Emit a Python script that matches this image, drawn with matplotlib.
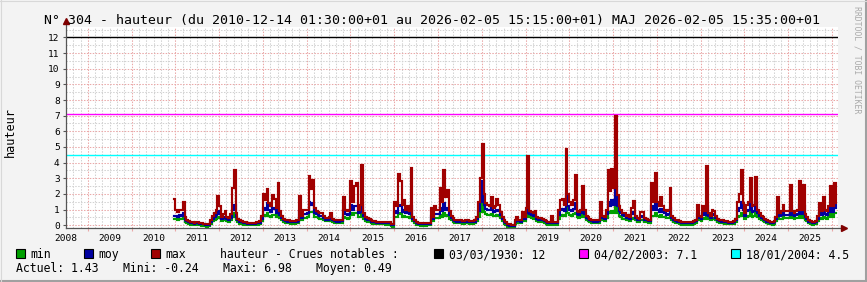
import matplotlib
matplotlib.use("Agg")
import matplotlib.pyplot as plt
import numpy as np
from matplotlib.patches import Rectangle
from matplotlib.lines import Line2D

W, H, DPI = 867, 282, 100
MONO = "DejaVu Sans Mono"

# ---------------- data (semi-monthly bins, first bin = late Dec 2010) ----------------
FIRST_BIN_YEAR = 2010
FIRST_BIN_INDEX = 23          # half-month index within the year (0..23)
BINS_PER_YEAR = 24
END_TIME = 2026 + 35 / 365.0  # 2026-02-05

max_vals = [
    1.7,
    0.95, 0.85, 0.95, 0.95, 1.5, 0.55, 0.35, 0.25, 0.2, 0.18, 0.15, 0.2, 0.2, 0.15, 0.12, 0.1, 0.08, 0.05, 0.1, 0.3, 0.6, 0.75, 1.0, 1.85,
    1.2, 0.5, 0.7, 0.9, 0.5, 0.45, 0.7, 2.35, 3.5, 0.8, 0.4, 0.3, 0.25, 0.2, 0.18, 0.17, 0.17, 0.15, 0.15, 0.17, 0.2, 0.2, 0.25, 0.6,
    2.0, 1.6, 2.3, 1.4, 1.2, 1.9, 1.7, 1.1, 2.7, 0.9, 0.6, 0.4, 0.35, 0.3, 0.3, 0.28, 0.25, 0.25, 0.3, 0.35, 1.85, 0.6, 1.0, 1.0,
    1.0, 3.15, 2.3, 2.9, 1.1, 0.9, 0.85, 0.8, 0.8, 0.6, 0.45, 0.45, 0.5, 0.77, 0.4, 0.35, 0.3, 0.3, 0.35, 0.35, 1.83, 1.0, 0.9, 1.0,
    2.85, 1.5, 2.5, 2.7, 1.0, 1.3, 3.86, 0.8, 0.55, 0.45, 0.4, 0.3, 0.25, 0.25, 0.23, 0.22, 0.22, 0.22, 0.22, 0.2, 0.2, 0.22, 0.1, 0.05,
    1.5, 1.2, 3.28, 2.8, 1.3, 1.6, 1.0, 1.2, 0.9, 3.64, 0.55, 0.35, 0.2, 0.15, 0.12, 0.12, 0.12, 0.12, 0.15, 0.15, 1.1, 0.5, 1.2, 1.0,
    1.0, 2.36, 1.5, 3.54, 1.8, 2.26, 0.9, 0.6, 0.45, 0.35, 0.3, 0.3, 0.3, 0.28, 0.25, 0.35, 0.3, 0.25, 0.25, 0.25, 0.3, 0.5, 1.5, 3.0,
    5.2, 2.0, 1.4, 1.3, 1.2, 1.78, 1.1, 1.2, 1.7, 1.3, 0.85, 0.5, 0.3, 0.2, 0.1, 0.05, 0.02, 0.0, 0.3, 0.5, 0.35, 0.3, 0.85, 0.5,
    1.1, 4.45, 0.9, 0.85, 0.75, 0.9, 0.5, 0.45, 0.45, 0.4, 0.35, 0.25, 0.2, 0.2, 0.6, 0.2, 0.18, 0.2, 1.0, 1.6, 1.7, 1.3, 4.9, 2.0,
    1.5, 1.3, 1.6, 3.2, 0.9, 0.85, 1.0, 2.5, 1.0, 0.6, 0.5, 0.4, 0.35, 0.3, 0.3, 0.3, 0.35, 1.5, 0.6, 0.5, 1.0, 3.5, 2.2, 3.6,
    2.4, 6.98, 1.9, 1.2, 1.0, 0.8, 0.75, 0.6, 0.65, 0.5, 1.1, 1.56, 0.6, 0.45, 0.4, 0.85, 0.87, 0.45, 0.4, 0.35, 0.35, 2.7, 1.5, 3.35,
    1.5, 1.2, 1.8, 1.2, 1.0, 0.9, 1.0, 2.36, 0.6, 0.45, 0.35, 0.3, 0.25, 0.22, 0.2, 0.2, 0.2, 0.2, 0.2, 0.22, 0.25, 0.35, 1.3, 0.6,
    0.5, 1.2, 0.9, 3.8, 0.8, 0.6, 1.0, 0.9, 0.6, 0.4, 0.35, 0.3, 0.3, 0.25, 0.25, 0.22, 0.22, 0.22, 0.25, 0.4, 1.5, 2.0, 3.5, 1.4,
    0.8, 1.3, 1.5, 3.0, 1.2, 1.3, 3.1, 1.0, 0.8, 0.6, 0.55, 0.4, 0.3, 0.25, 0.22, 0.2, 0.25, 0.5, 1.8, 0.8, 0.9, 1.3, 0.9, 0.9,
    0.9, 2.6, 0.9, 0.8, 0.9, 1.0, 2.8, 1.0, 2.6, 0.7, 0.5, 0.3, 0.25, 0.2, 0.22, 0.25, 0.6, 1.4, 0.9, 1.8, 1.0, 0.9, 1.2, 2.5,
    1.2, 2.7, 1.43,
]

moy_vals = [
    0.6,
    0.6, 0.55, 0.65, 0.6, 0.8, 0.35, 0.25, 0.18, 0.14, 0.12, 0.1, 0.13, 0.13, 0.1, 0.07, 0.05, 0.02, 0.0, 0.04, 0.2, 0.4, 0.5, 0.65, 0.9,
    0.7, 0.38, 0.45, 0.55, 0.38, 0.33, 0.45, 1.0, 1.3, 0.55, 0.3, 0.22, 0.18, 0.14, 0.12, 0.1, 0.1, 0.09, 0.09, 0.1, 0.13, 0.13, 0.17, 0.4,
    1.1, 1.0, 1.4, 0.95, 0.85, 1.1, 1.05, 0.8, 1.3, 0.65, 0.45, 0.3, 0.26, 0.22, 0.22, 0.2, 0.18, 0.18, 0.22, 0.26, 0.9, 0.45, 0.7, 0.7,
    0.75, 1.5, 1.3, 1.4, 0.8, 0.7, 0.65, 0.6, 0.6, 0.45, 0.35, 0.35, 0.38, 0.5, 0.3, 0.27, 0.23, 0.23, 0.27, 0.27, 0.95, 0.7, 0.65, 0.7,
    1.3, 1.0, 1.2, 1.25, 0.75, 0.85, 1.3, 0.6, 0.42, 0.35, 0.3, 0.22, 0.18, 0.18, 0.16, 0.15, 0.15, 0.15, 0.15, 0.13, 0.13, 0.14, 0.04, -0.01,
    0.9, 0.8, 1.3, 1.2, 0.85, 0.95, 0.75, 0.85, 0.7, 1.25, 0.4, 0.26, 0.13, 0.09, 0.06, 0.06, 0.06, 0.06, 0.09, 0.09, 0.6, 0.38, 0.7, 0.7,
    0.7, 1.1, 0.9, 1.4, 1.0, 1.1, 0.65, 0.45, 0.35, 0.27, 0.22, 0.22, 0.22, 0.2, 0.18, 0.26, 0.22, 0.18, 0.18, 0.18, 0.22, 0.38, 0.9, 1.5,
    2.8, 1.3, 1.05, 1.0, 0.95, 1.1, 0.85, 0.9, 1.0, 0.9, 0.65, 0.38, 0.22, 0.12, 0.03, -0.03, -0.06, -0.08, 0.2, 0.35, 0.26, 0.22, 0.55, 0.38,
    0.8, 1.5, 0.7, 0.65, 0.58, 0.65, 0.38, 0.34, 0.34, 0.3, 0.26, 0.18, 0.13, 0.13, 0.35, 0.13, 0.11, 0.13, 0.65, 1.0, 1.05, 0.9, 2.0, 1.2,
    1.0, 0.9, 1.05, 1.4, 0.7, 0.65, 0.75, 1.1, 0.72, 0.45, 0.38, 0.3, 0.26, 0.22, 0.22, 0.22, 0.26, 0.8, 0.45, 0.38, 0.7, 1.5, 1.2, 1.6,
    1.3, 2.8, 1.2, 0.9, 0.75, 0.62, 0.58, 0.46, 0.5, 0.38, 0.7, 0.85, 0.45, 0.34, 0.3, 0.55, 0.6, 0.34, 0.3, 0.26, 0.26, 1.2, 0.95, 1.45,
    1.0, 0.85, 1.05, 0.85, 0.75, 0.68, 0.72, 1.1, 0.45, 0.34, 0.26, 0.22, 0.18, 0.15, 0.13, 0.13, 0.13, 0.13, 0.13, 0.15, 0.18, 0.26, 0.7, 0.45,
    0.38, 0.75, 0.65, 1.2, 0.6, 0.46, 0.7, 0.65, 0.45, 0.3, 0.26, 0.22, 0.22, 0.18, 0.18, 0.15, 0.15, 0.15, 0.18, 0.3, 0.9, 1.1, 1.5, 0.95,
    0.6, 0.9, 1.0, 1.5, 0.85, 0.9, 1.45, 0.75, 0.6, 0.45, 0.42, 0.3, 0.22, 0.18, 0.15, 0.13, 0.18, 0.38, 1.0, 0.6, 0.65, 0.85, 0.68, 0.68,
    0.68, 1.2, 0.68, 0.6, 0.68, 0.72, 1.3, 0.72, 1.2, 0.52, 0.38, 0.22, 0.18, 0.13, 0.15, 0.18, 0.42, 0.8, 0.65, 1.0, 0.72, 0.68, 0.85, 1.25,
    0.85, 1.3, 1.1,
]

min_vals = [
    0.4,
    0.4, 0.35, 0.4, 0.4, 0.45, 0.2, 0.12, 0.08, 0.04, 0.02, 0.0, 0.03, 0.03, 0.0, -0.03, -0.05, -0.08, -0.1, -0.06, 0.08, 0.25, 0.3, 0.4, 0.5,
    0.45, 0.25, 0.3, 0.35, 0.25, 0.2, 0.3, 0.55, 0.8, 0.35, 0.18, 0.1, 0.06, 0.03, 0.01, 0.0, 0.0, -0.02, -0.02, 0.0, 0.03, 0.03, 0.06, 0.25,
    0.65, 0.6, 0.8, 0.6, 0.55, 0.65, 0.65, 0.55, 0.7, 0.45, 0.3, 0.2, 0.16, 0.12, 0.12, 0.1, 0.08, 0.08, 0.12, 0.15, 0.45, 0.3, 0.45, 0.45,
    0.5, 0.85, 0.85, 0.85, 0.55, 0.5, 0.45, 0.42, 0.42, 0.32, 0.24, 0.24, 0.26, 0.32, 0.2, 0.17, 0.13, 0.13, 0.17, 0.17, 0.5, 0.45, 0.42, 0.45,
    0.75, 0.65, 0.75, 0.75, 0.5, 0.55, 0.75, 0.4, 0.28, 0.22, 0.18, 0.12, 0.08, 0.08, 0.06, 0.05, 0.05, 0.05, 0.05, 0.03, 0.03, 0.04, -0.08, -0.18,
    0.55, 0.5, 0.75, 0.7, 0.55, 0.6, 0.5, 0.55, 0.45, 0.7, 0.28, 0.16, 0.03, -0.01, -0.04, -0.04, -0.04, -0.04, -0.01, 0.0, 0.35, 0.25, 0.45, 0.45,
    0.45, 0.65, 0.55, 0.75, 0.6, 0.65, 0.42, 0.3, 0.22, 0.16, 0.12, 0.12, 0.12, 0.1, 0.08, 0.15, 0.12, 0.08, 0.08, 0.08, 0.12, 0.25, 0.55, 0.85,
    1.6, 0.85, 0.7, 0.65, 0.62, 0.7, 0.58, 0.6, 0.65, 0.6, 0.45, 0.25, 0.1, 0.0, -0.1, -0.16, -0.2, -0.24, 0.05, 0.22, 0.15, 0.12, 0.35, 0.25,
    0.55, 0.8, 0.5, 0.45, 0.4, 0.45, 0.26, 0.22, 0.22, 0.2, 0.16, 0.08, 0.03, 0.03, 0.15, 0.03, 0.01, 0.03, 0.4, 0.6, 0.65, 0.6, 1.1, 0.75,
    0.65, 0.6, 0.7, 0.8, 0.5, 0.45, 0.5, 0.65, 0.5, 0.32, 0.26, 0.2, 0.16, 0.12, 0.12, 0.12, 0.15, 0.4, 0.3, 0.26, 0.45, 0.85, 0.75, 0.9,
    0.8, 1.6, 0.8, 0.6, 0.5, 0.42, 0.4, 0.32, 0.35, 0.26, 0.4, 0.45, 0.3, 0.22, 0.18, 0.3, 0.35, 0.22, 0.18, 0.15, 0.15, 0.6, 0.6, 0.8,
    0.6, 0.55, 0.65, 0.55, 0.5, 0.45, 0.48, 0.6, 0.3, 0.22, 0.15, 0.11, 0.07, 0.04, 0.02, 0.02, 0.02, 0.02, 0.02, 0.04, 0.07, 0.14, 0.4, 0.3,
    0.25, 0.45, 0.42, 0.6, 0.4, 0.32, 0.45, 0.42, 0.3, 0.2, 0.16, 0.12, 0.12, 0.08, 0.08, 0.05, 0.05, 0.05, 0.08, 0.18, 0.5, 0.6, 0.8, 0.6,
    0.4, 0.55, 0.6, 0.85, 0.55, 0.58, 0.85, 0.5, 0.4, 0.3, 0.28, 0.2, 0.12, 0.08, 0.05, 0.03, 0.08, 0.25, 0.55, 0.4, 0.42, 0.5, 0.45, 0.45,
    0.45, 0.65, 0.45, 0.4, 0.45, 0.48, 0.7, 0.48, 0.65, 0.35, 0.25, 0.12, 0.08, 0.03, 0.05, 0.08, 0.28, 0.45, 0.42, 0.55, 0.45, 0.42, 0.5, 0.7,
    0.55, 0.75, 0.8,
]

hrule_values = [12, 7.1, 4.5]
hrule_colors = ["#000000", "#FF00FF", "#00FFFF"]
hrule_labels = ["03/03/1930: 12", "04/02/2003: 7.1", "18/01/2004: 4.5"]

series_names = ["min", "moy", "max"]
series_colors = ["#00A000", "#0000A0", "#A00000"]

year_labels = list(range(2008, 2026))
y_ticks = list(range(0, 13))

title = ("N° 304 - hauteur (du 2010-12-14 01:30:00+01 au 2026-02-05 15:15:00+01) "
         "MAJ 2026-02-05 15:35:00+01")
stats_text = ["Actuel: 1.43", "Mini: -0.24", "Maxi: 6.98", "Moyen: 0.49"]

# ---------------- figure ----------------
def fx(px):
    return px / W

def fy(py):
    return 1 - py / H

fig = plt.figure(figsize=(W / DPI, H / DPI), dpi=DPI, facecolor="#F3F3F3")
L, R, T, B = 66, 838, 26.5, 228
ax = fig.add_axes([fx(L), fy(B), (R - L) / W, (B - T) / H])
ax.set_facecolor("white")
ax.set_xlim(2008.5, 2026.14)
ax.set_ylim(-0.18, 12.7)
for s in ax.spines.values():
    s.set_visible(False)

# grid
minor_c, major_c = "#D2D2D2", "#EAA8A8"
dash = (0, (1.4, 1.4))
for k in range(0, 13):
    ax.axhline(k + 0.5, color=minor_c, lw=0.75, ls=dash, zorder=1)
for m in range(2008 * 6, 2027 * 6):
    xv = m / 6.0
    if m % 6 != 0:
        ax.axvline(xv, color=minor_c, lw=0.75, ls=dash, zorder=1)
for k in y_ticks:
    ax.axhline(k, color=major_c, lw=0.75, ls=dash, zorder=1.5)
for yr in range(2009, 2027):
    ax.axvline(yr, color=major_c, lw=0.75, ls=dash, zorder=1.5)

# hrules
for v, c in zip(hrule_values, hrule_colors):
    ax.axhline(v, color=c, lw=1.0, zorder=2)

# data
n = min(len(max_vals), len(moy_vals), len(min_vals))
t = FIRST_BIN_YEAR + (FIRST_BIN_INDEX + np.arange(n)) / BINS_PER_YEAR
t_ext = np.append(t, END_TIME)
for vals, c, z in zip([min_vals, moy_vals, max_vals], series_colors, [3, 4, 5]):
    v = np.asarray(vals[:n], dtype=float)
    v_ext = np.append(v, v[-1])
    ax.plot(t_ext, v_ext, drawstyle="steps-post", color=c, lw=1.55,
            solid_joinstyle="miter", zorder=z)

# axes lines + arrows
axis_c = "#555555"
ax.plot([0, 0], [0, 1.008], transform=ax.transAxes, color=axis_c, lw=0.9,
        clip_on=False, zorder=6)
ax.plot([0, 1.003], [0, 0], transform=ax.transAxes, color=axis_c, lw=0.9,
        clip_on=False, zorder=6)
ax.plot([0], [1.025], marker="^", ms=4.2, color="#7F0000", mec="#7F0000",
        transform=ax.transAxes, clip_on=False, zorder=7)
ax.plot([1.008], [0], marker=">", ms=4.2, color="#7F0000", mec="#7F0000",
        transform=ax.transAxes, clip_on=False, zorder=7)

# ticks
ax.set_yticks(y_ticks)
ax.set_yticklabels([str(k) for k in y_ticks], family=MONO, fontsize=6.8)
ax.tick_params(axis="y", length=2, width=0.8, color=axis_c, pad=2.5)
ax.set_xticks(list(range(2009, 2027)))
ax.set_xticklabels([""] * len(range(2009, 2027)))
ax.set_xticks([y + 0.5 for y in year_labels], minor=True)
ax.set_xticklabels([str(y) for y in year_labels], minor=True, family=MONO, fontsize=6.8)
ax.tick_params(axis="x", which="major", length=2, width=0.8, color=major_c)
ax.tick_params(axis="x", which="minor", length=0, pad=4)

# title and side texts
fig.text(fx(432.5), fy(24.3), title, family=MONO, fontsize=9.5, ha="center",
         va="baseline", color="#000000")
fig.text(fx(10), fy(132), "hauteur", family=MONO, fontsize=8.6, rotation=90,
         ha="center", va="center", color="#000000")
fig.text(fx(856.5), fy(60), "RRDTOOL / TOBI OETIKER", family=MONO, fontsize=5.9,
         rotation=270, ha="center", va="center", color="#AAAAAA")

# legend row 1
LEG_FS = 8.3
row1 = 258.3
sq = 9.3

def square(xp, color):
    fig.patches.append(Rectangle((fx(xp), fy(row1)), sq / W, sq / H,
                                 transform=fig.transFigure, facecolor=color,
                                 edgecolor="black", lw=0.8))

for xp, tx, name, c in zip([15.5, 83.5, 151], [30, 98, 165], series_names, series_colors):
    square(xp, c)
    fig.text(fx(tx), fy(row1), name, family=MONO, fontsize=LEG_FS, va="baseline")
fig.text(fx(220), fy(row1), "hauteur - Crues notables :", family=MONO,
         fontsize=LEG_FS, va="baseline")
for xp, tx, lab, c in zip([434, 579, 731], [449, 594, 746], hrule_labels, hrule_colors):
    square(xp, c)
    fig.text(fx(tx), fy(row1), lab, family=MONO, fontsize=LEG_FS, va="baseline")

# legend row 2
row2 = 272.3
for tx, s in zip([16, 123, 223, 316], stats_text):
    fig.text(fx(tx), fy(row2), s, family=MONO, fontsize=LEG_FS, va="baseline")

# frame of the canvas
fig.add_artist(Line2D([0, 1], [fy(280.5), fy(280.5)], transform=fig.transFigure,
                      color="#A0A0A0", lw=1.5))
fig.add_artist(Line2D([fx(865.5), fx(865.5)], [0, 1], transform=fig.transFigure,
                      color="#A0A0A0", lw=1.5))
fig.add_artist(Line2D([0, 1], [fy(0.5), fy(0.5)], transform=fig.transFigure,
                      color="#D8D8D8", lw=0.8))
fig.add_artist(Line2D([fx(0.5), fx(0.5)], [0, 1], transform=fig.transFigure,
                      color="#D8D8D8", lw=0.8))

fig.savefig("out.png", dpi=DPI, facecolor=fig.get_facecolor())
